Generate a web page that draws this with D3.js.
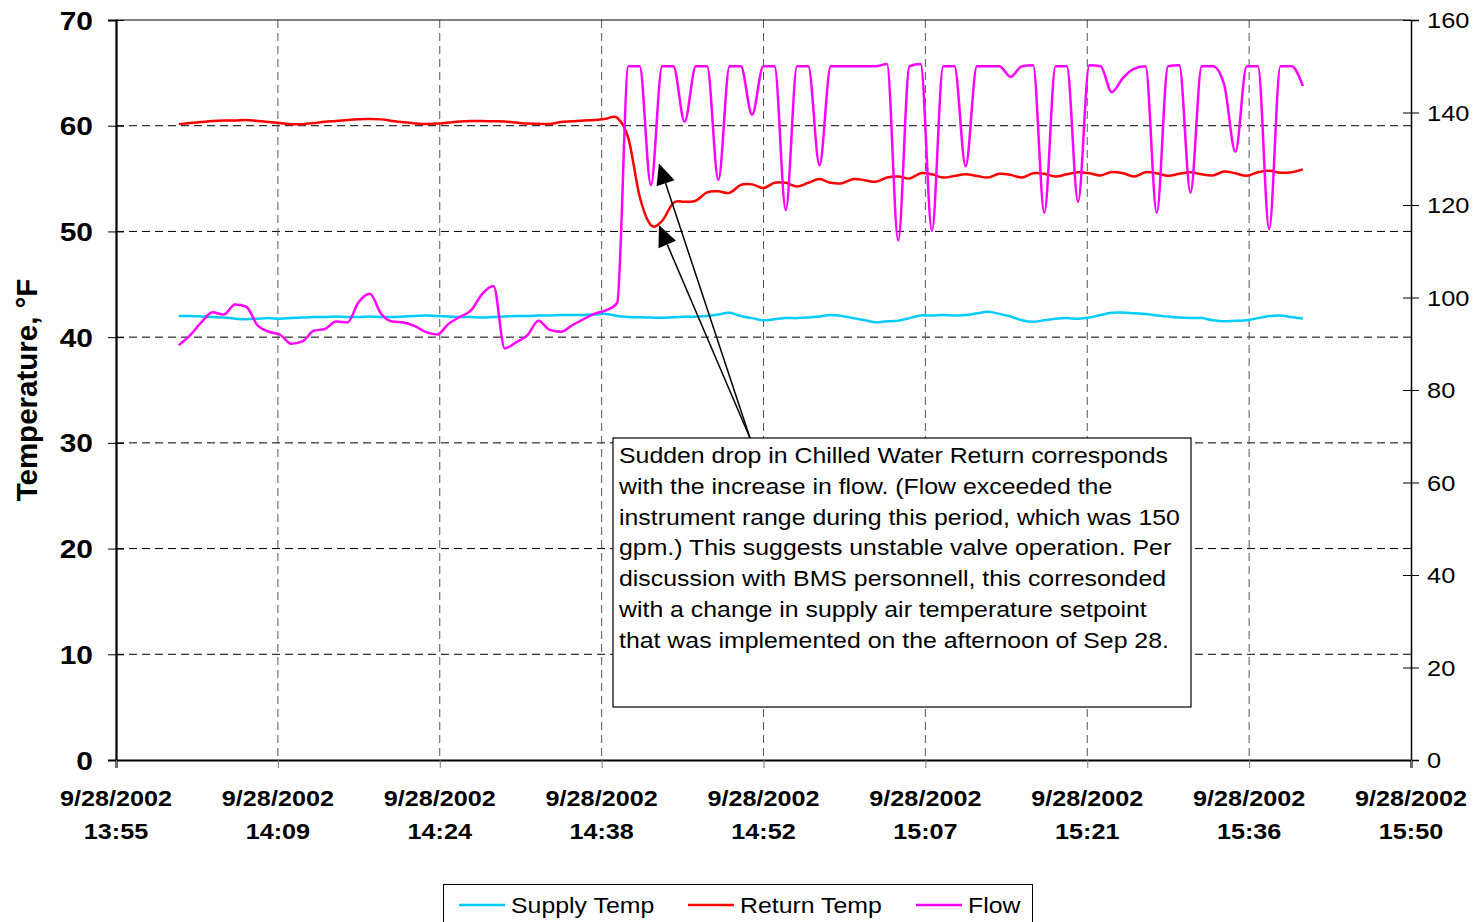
<!DOCTYPE html>
<html><head><meta charset="utf-8">
<script src="https://cdn.jsdelivr.net/npm/d3@7"></script>
<style>html,body{margin:0;padding:0;background:#fff}svg{display:block}</style>
</head><body><svg id="c" width="1477" height="922"></svg>
<script>
const times = ["14:00:47","14:01:47","14:02:47","14:03:47","14:04:47","14:05:47","14:06:47","14:07:47","14:08:47","14:09:47",
"14:10:47","14:11:47","14:12:47","14:13:47","14:14:47","14:15:47","14:16:47","14:17:47","14:18:47","14:19:47",
"14:20:47","14:21:47","14:22:47","14:23:47","14:24:47","14:25:47","14:26:47","14:27:47","14:28:47","14:29:47",
"14:30:47","14:31:47","14:32:47","14:33:47","14:34:47","14:35:47","14:36:47","14:37:47","14:38:47","14:39:47",
"14:40:47","14:41:47","14:42:47","14:43:47","14:44:47","14:45:47","14:46:47","14:47:47","14:48:47","14:49:47",
"14:50:47","14:51:47","14:52:47","14:53:47","14:54:47","14:55:47","14:56:47","14:57:47","14:58:47","14:59:47",
"15:00:47","15:01:47","15:02:47","15:03:47","15:04:47","15:05:47","15:06:47","15:07:47","15:08:47","15:09:47",
"15:10:47","15:11:47","15:12:47","15:13:47","15:14:47","15:15:47","15:16:47","15:17:47","15:18:47","15:19:47",
"15:20:47","15:21:47","15:22:47","15:23:47","15:24:47","15:25:47","15:26:47","15:27:47","15:28:47","15:29:47",
"15:30:47","15:31:47","15:32:47","15:33:47","15:34:47","15:35:47","15:36:47","15:37:47","15:38:47","15:39:47",
"15:40:47"];

const supplyTemp = [42.0,42.0,41.95,41.9,41.85, 41.75,41.7,41.75,41.8,41.75, 41.8,41.85,41.9,41.9,41.95, 41.9,41.9,41.95,41.9,41.9,
41.95,42.0,42.05,42.0,41.95, 41.9,41.9,41.85,41.9,41.95, 42.0,42.0,42.05,42.05,42.1, 42.1,42.1,42.15,42.2,42.0,
41.9,41.87,41.85,41.83,41.88, 41.92,41.94,42.0,42.15,42.3, 42.0,41.8,41.6,41.7,41.8, 41.8,41.85,41.95,42.1,42.0,
41.8,41.6,41.4,41.5,41.55, 41.8,42.05,42.05,42.1,42.05, 42.1,42.25,42.4,42.2,41.95, 41.6,41.45,41.6,41.75,41.8,
41.75,41.85,42.1,42.3,42.32, 42.25,42.2,42.05,41.95,41.85, 41.8,41.8,41.6,41.5,41.55, 41.6,41.8,42.0,42.05,41.9,
41.76];

const returnTemp = [60.15,60.25,60.35,60.45,60.5, 60.5,60.55,60.45,60.35,60.25, 60.15,60.15,60.25,60.38,60.45, 60.55,60.62,60.63,60.6,60.45,
60.32,60.22,60.16,60.2,60.3, 60.4,60.45,60.45,60.42,60.4, 60.3,60.2,60.18,60.16,60.35, 60.42,60.5,60.55,60.65,60.75,
58.8,53.3,50.6,51.0,52.7, 52.8,52.9,53.7,53.8,53.65, 54.4,54.45,54.1,54.6,54.6, 54.25,54.6,54.95,54.6,54.55,
54.95,54.85,54.7,55.1,55.2, 55.0,55.5,55.4,55.1,55.25, 55.4,55.25,55.1,55.45,55.35, 55.1,55.5,55.45,55.2,55.4,
55.6,55.5,55.3,55.62,55.5, 55.2,55.6,55.5,55.26,55.45, 55.6,55.4,55.3,55.66,55.5, 55.26,55.6,55.74,55.55,55.6,
55.87];

const flow = [89.7,91.8,94.6,96.8,96.3, 98.5,98.0,94.0,92.6,92.0, 90.0,90.5,92.8,93.2,94.8, 94.6,99.0,100.8,96.5,94.8,
94.6,93.8,92.5,92.0,94.3, 95.8,97.2,100.8,102.5,89.0, 90.3,91.8,95.0,93.0,92.6, 94.0,95.3,96.5,97.2,98.8,
150,150,124.3,150,150, 138,150,150,125.4,150, 150,139.5,150,150,118.9, 150,150,128.6,150,150,
150,150,150,150.5,112.3, 150,150.5,114.4,150,150, 128.4,150,150,150,147.7, 150,150.2,118.3,150,150,
120.7,150.2,150,144.4,147.5, 149.5,150,118.3,150,150.2, 122.7,150,150,146,131.5, 150,150,114.8,150,150,
145.7];

const leftTicks = [0,10,20,30,40,50,60,70];
const rightTicks = [0,20,40,60,80,100,120,140,160];
const xTickMinutes = [835.2,849.6,864,878.4,892.8,907.2,921.6,936,950.4];
const xTickDates = ["9/28/2002","9/28/2002","9/28/2002","9/28/2002","9/28/2002","9/28/2002","9/28/2002","9/28/2002","9/28/2002"];
const xTickTimes = ["13:55","14:09","14:24","14:38","14:52","15:07","15:21","15:36","15:50"];
const seriesNames = ["Supply Temp","Return Temp","Flow"];
const seriesColors = ["#00CCFF","#FF0000","#FF00FF"];
const noteLines = ["Sudden drop in Chilled Water Return corresponds",
"with the increase in flow. (Flow exceeded the",
"instrument range during this period, which was 150",
"gpm.) This suggests unstable valve operation. Per",
"discussion with BMS personnell, this corresonded",
"with a change in supply air temperature setpoint",
"that was implemented on the afternoon of Sep 28."];
// arrow targets in data units: [time, value, axis]
const arrowTargets = [["14:43:30",129,"right"],["14:43:30",50.6,"left"]];

const FONT = "'Liberation Sans', Arial, sans-serif";
const SX = 1.13;
const L = 116, R = 1411, T = 20, B = 760;
const toMin = s => { const p = s.split(":").map(Number); return p[0]*60 + p[1] + (p[2]||0)/60; };

const svg = d3.select("#c");
const x = d3.scaleLinear().domain([xTickMinutes[0], xTickMinutes[xTickMinutes.length-1]]).range([L, R]);
const yL = d3.scaleLinear().domain([0,70]).range([B, T]);
const yR = d3.scaleLinear().domain([0,160]).range([B, T]);

function txt(g, px, py, s, o) {
  o = o || {};
  return g.append("text")
    .attr("transform", `translate(${px},${py}) scale(${o.sx||SX},1)`)
    .attr("text-anchor", o.anchor || "start")
    .attr("font-family", FONT)
    .attr("font-size", o.size || 22)
    .attr("font-weight", o.weight || "normal")
    .attr("fill", "#000")
    .text(s);
}

// gridlines
const grid = svg.append("g");
grid.selectAll("line.h").data(leftTicks.filter(v => v > 0 && v < 70)).join("line")
  .attr("x1", L).attr("x2", R).attr("y1", d => yL(d)).attr("y2", d => yL(d))
  .attr("stroke", "#000").attr("stroke-width", 1).attr("stroke-dasharray", "8,5");
grid.selectAll("line.v").data(xTickMinutes.slice(1, -1)).join("line")
  .attr("x1", d => x(d)).attr("x2", d => x(d)).attr("y1", T).attr("y2", B)
  .attr("stroke", "#555").attr("stroke-width", 1).attr("stroke-dasharray", "8,5");

// top border
svg.append("line").attr("x1", L).attr("x2", R).attr("y1", T).attr("y2", T).attr("stroke", "#000").attr("stroke-width", 1.2);

// axes
const axL = svg.append("g").attr("transform", `translate(${L},0)`)
  .call(d3.axisLeft(yL).tickValues(leftTicks).tickSize(8).tickFormat(""));
axL.select(".domain").attr("stroke", "#000").attr("stroke-width", 2.2);
axL.selectAll(".tick line").attr("x1", 8).attr("stroke", "#000").attr("stroke-width", 1);

const axR = svg.append("g").attr("transform", `translate(${R},0)`)
  .call(d3.axisRight(yR).tickValues(rightTicks).tickSize(8).tickFormat(""));
axR.select(".domain").attr("stroke", "#000").attr("stroke-width", 1.5);
axR.selectAll(".tick line").attr("x1", -8).attr("stroke", "#000").attr("stroke-width", 1);

const axB = svg.append("g").attr("transform", `translate(0,${B})`)
  .call(d3.axisBottom(x).tickValues(xTickMinutes).tickSize(8).tickFormat(""));
axB.select(".domain").attr("stroke", "#000").attr("stroke-width", 2.2);
axB.selectAll(".tick line").attr("stroke", "#777").attr("stroke-width", 1);

// tick labels
const lab = svg.append("g");
leftTicks.forEach(v => txt(lab, 93, yL(v) + 9.5, String(v), {anchor: "end", size: 26.5, weight: "bold"}));
rightTicks.forEach(v => txt(lab, 1427, yR(v) + 8, String(v), {anchor: "start", size: 22.5}));
xTickMinutes.forEach((m, i) => {
  txt(lab, x(m), 806, xTickDates[i], {anchor: "middle", size: 22.3, weight: "bold"});
  txt(lab, x(m), 839, xTickTimes[i], {anchor: "middle", size: 22.3, weight: "bold"});
});
lab.append("text").attr("transform", "translate(37,390) rotate(-90)")
  .attr("text-anchor", "middle").attr("font-family", FONT).attr("font-size", 29.5)
  .attr("font-weight", "bold").text("Temperature, °F");

// series
const mins = times.map(toMin);
const line = (ys, arr, curve) => d3.line().x((d, i) => x(mins[i])).y(d => ys(d)).curve(curve)(arr);
const series = [[supplyTemp, yL, d3.curveCardinal.tension(0)], [returnTemp, yL, d3.curveCardinal.tension(0)], [flow, yR, d3.curveMonotoneX]];
const lines = svg.append("g").attr("fill", "none").attr("stroke-width", 2.5).attr("stroke-linejoin", "round");
series.forEach((s, i) => lines.append("path").attr("d", line(s[1], s[0], s[2])).attr("stroke", seriesColors[i]));

// annotation box
const box = {x: 613, y: 438, w: 578, h: 269};
svg.append("rect").attr("x", box.x).attr("y", box.y).attr("width", box.w).attr("height", box.h)
  .attr("fill", "#fff").attr("stroke", "#000").attr("stroke-width", 1.2);
const note = svg.append("g");
noteLines.forEach((s, i) => txt(note, 619, 463 + i * 30.8, s, {size: 22}));

// arrows
const ax0 = 750, ay0 = 438;
arrowTargets.forEach(t => {
  const tx = x(toMin(t[0])), ty = (t[2] === "right" ? yR : yL)(t[1]);
  const dx = tx - ax0, dy = ty - ay0, len = Math.hypot(dx, dy);
  const ux = dx / len, uy = dy / len, hl = 21, hw = 9.5;
  const bx = tx - ux * hl, by = ty - uy * hl;
  svg.append("line").attr("x1", ax0).attr("y1", ay0).attr("x2", bx).attr("y2", by)
    .attr("stroke", "#000").attr("stroke-width", 1.5);
  svg.append("path").attr("d", `M${tx},${ty}L${bx - uy * hw},${by + ux * hw}L${bx + uy * hw},${by - ux * hw}Z`).attr("fill", "#000");
});

// legend
const lg = svg.append("g");
lg.append("rect").attr("x", 443.5).attr("y", 884.5).attr("width", 589).attr("height", 60)
  .attr("fill", "#fff").attr("stroke", "#000").attr("stroke-width", 1);
const legX = [459, 688, 916];
seriesNames.forEach((n, i) => {
  lg.append("line").attr("x1", legX[i]).attr("x2", legX[i] + 46).attr("y1", 905).attr("y2", 905)
    .attr("stroke", seriesColors[i]).attr("stroke-width", 2.5);
  txt(lg, legX[i] + 52, 913, n, {size: 22});
});
</script></body></html>
